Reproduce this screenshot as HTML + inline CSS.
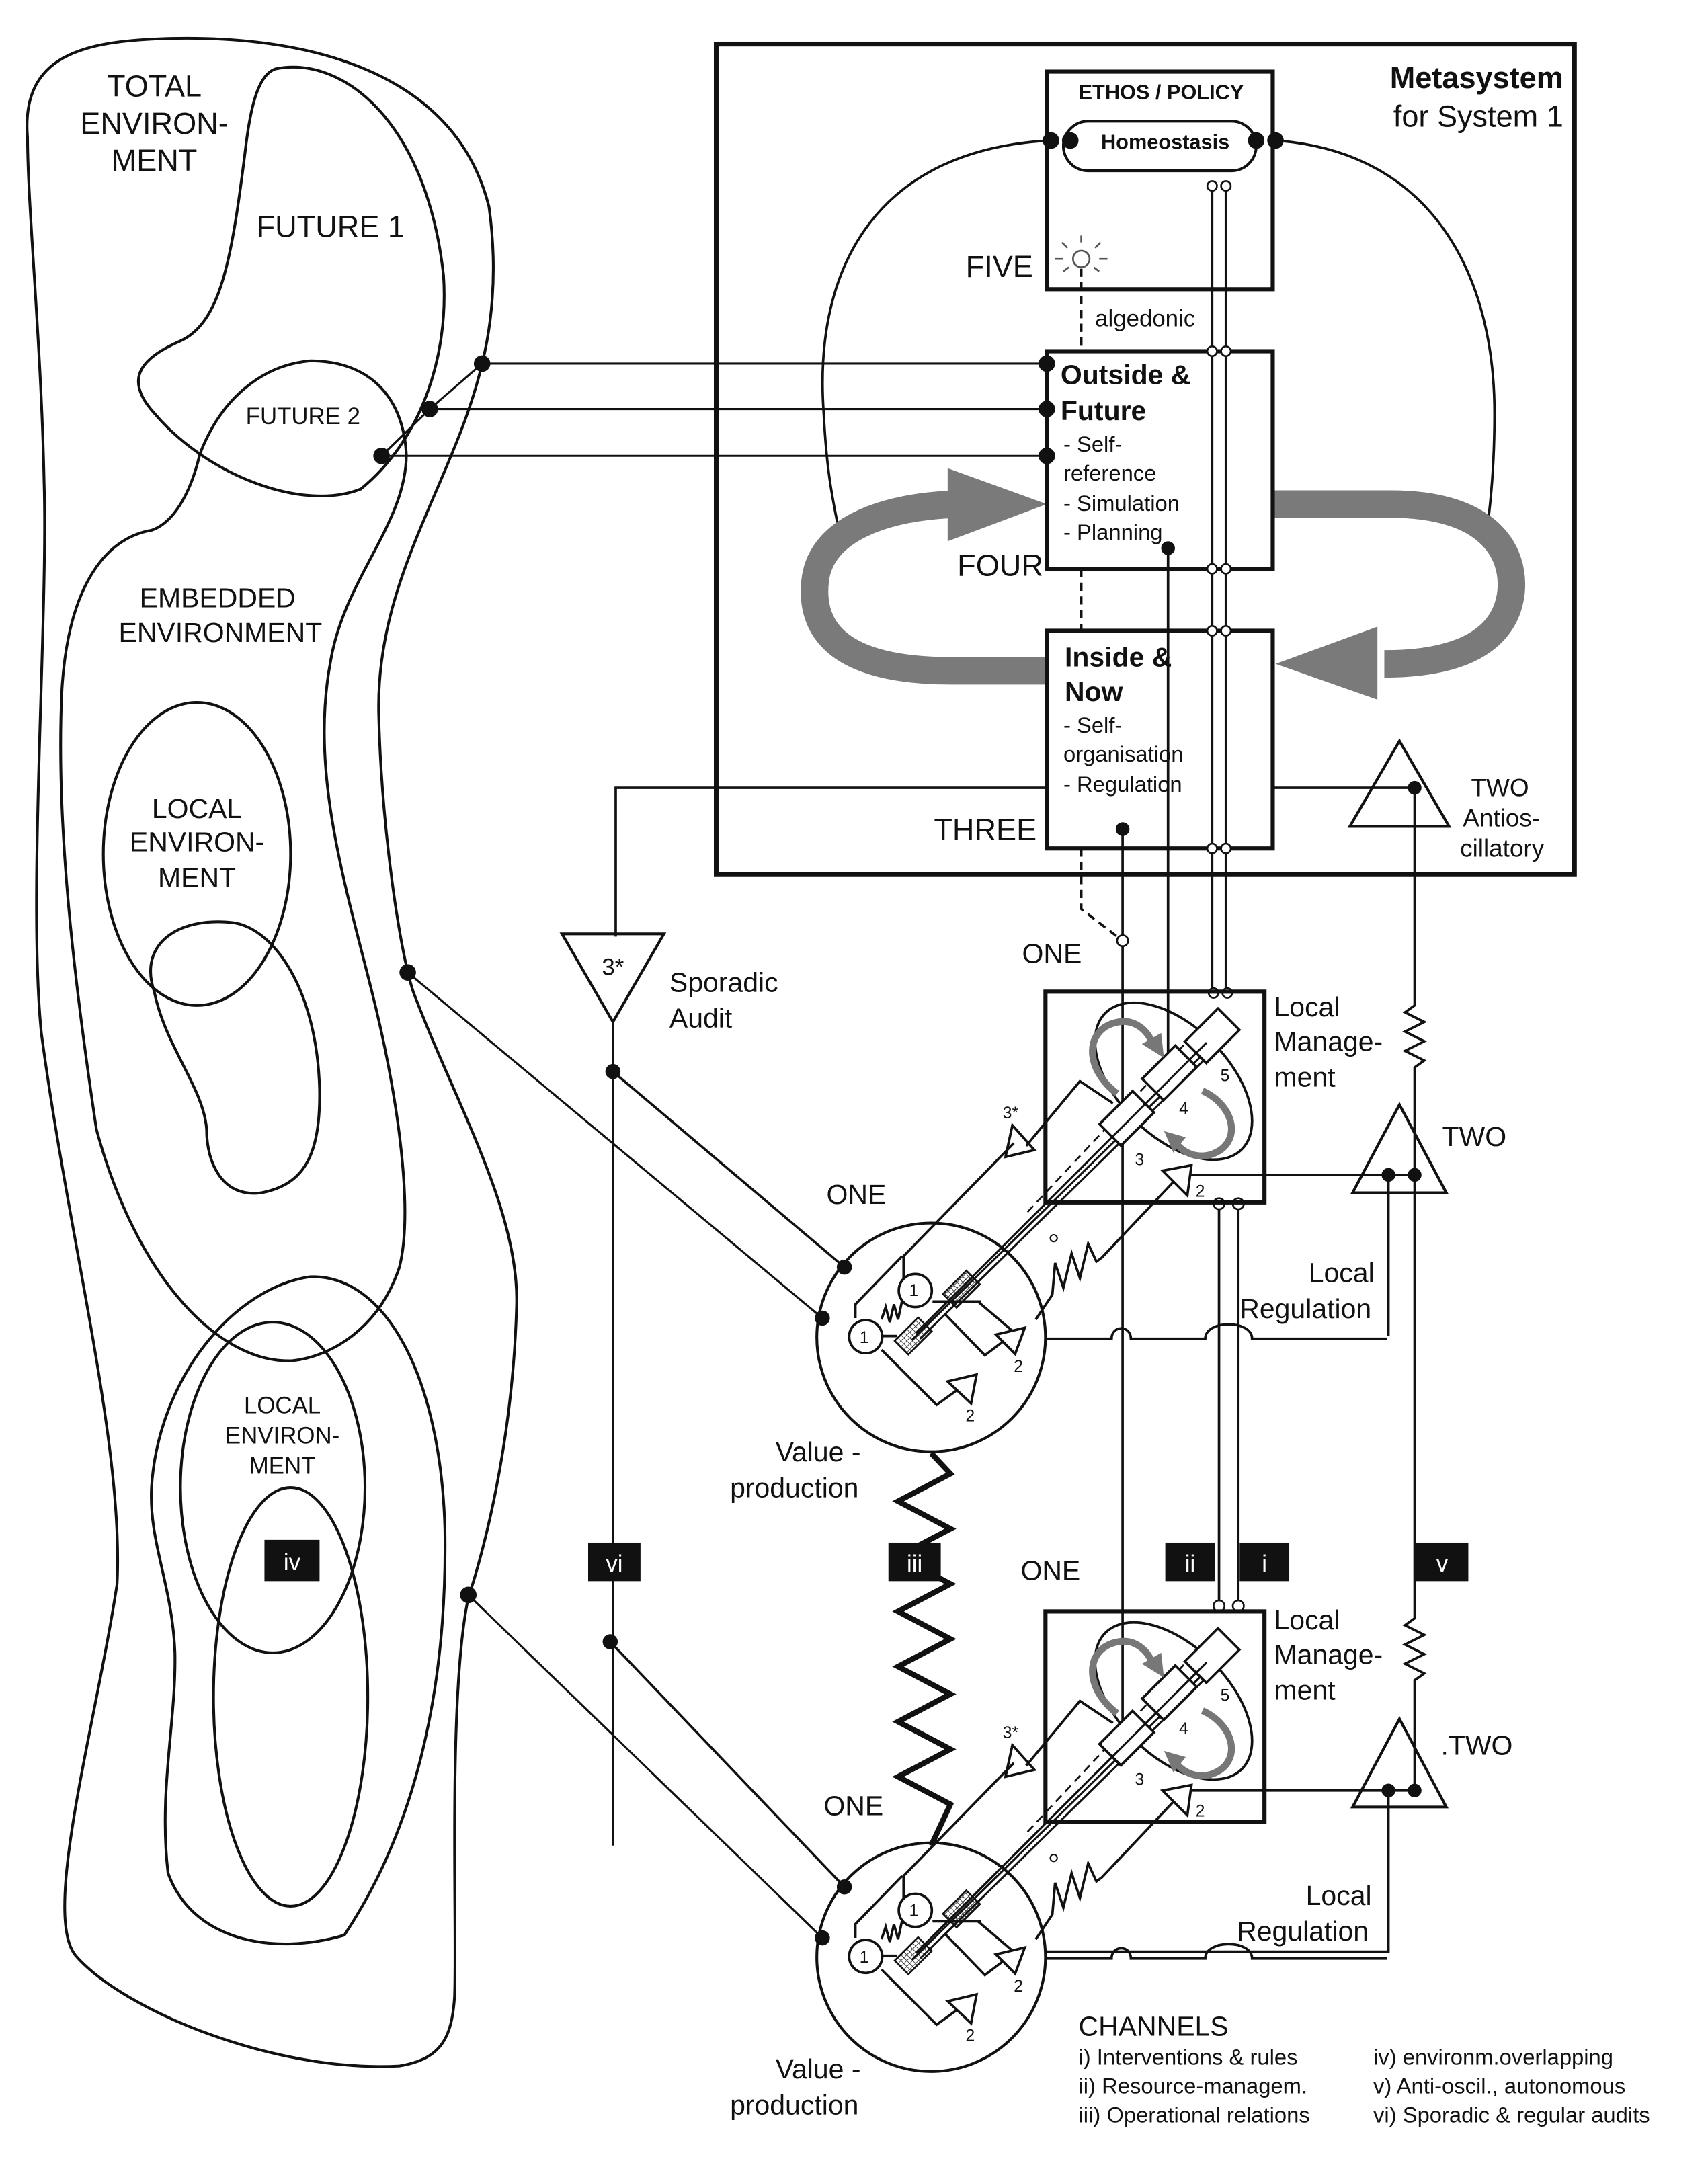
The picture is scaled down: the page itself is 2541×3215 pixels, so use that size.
<!DOCTYPE html>
<html><head><meta charset="utf-8"><style>
html,body{margin:0;padding:0;background:#fff}
svg{display:block}
text{font-family:"Liberation Sans",sans-serif;fill:#111}
</style></head><body>
<svg width="2541" height="3215" viewBox="0 0 1240 1569" preserveAspectRatio="none" xmlns="http://www.w3.org/2000/svg">
<defs>
<pattern id="hatch" width="3" height="3" patternUnits="userSpaceOnUse"><path d="M0,0H3M0,0V3" stroke="#222" stroke-width="0.8"/></pattern>
<g id="unit" fill="none" stroke="#111">
 <rect x="759" y="720" width="159" height="153" stroke-width="3"/>
 <circle cx="676" cy="971" r="83" stroke-width="2"/>
 <ellipse cx="852" cy="785" rx="70" ry="40" transform="rotate(45 852 785)" stroke-width="1.8"/>
 <path d="M665,968 L876,757 M662,973 L879,760 M668,972 L883,761" stroke-width="1.5"/>
 <path d="M746,880 L876,741" stroke-width="1.3" stroke-dasharray="6,4"/>
 <rect x="863" y="741" width="34" height="22" transform="rotate(-45 880 752)" fill="#fff" stroke-width="1.8"/>
 <rect x="832" y="768" width="34" height="22" transform="rotate(-45 849 779)" fill="#fff" stroke-width="1.8"/>
 <rect x="801" y="801" width="34" height="22" transform="rotate(-45 818 812)" fill="#fff" stroke-width="1.8"/>
 <path d="M665,968 L876,757" stroke-width="1.5"/>
 <path d="M811,794 C786,775 788,746 812,742 C823,740 832,747 836,756" stroke="#777" stroke-width="5"/>
 <polygon points="829,758 845,768 843,750" fill="#777" stroke="none"/>
 <path d="M873,792 C897,803 902,830 880,838 C868,842 858,836 853,829" stroke="#777" stroke-width="5"/>
 <polygon points="846,822 860,826 852,836" fill="#777" stroke="#777"/>
 <polygon points="730,840 751,835 735,817" fill="#fff" stroke-width="1.8"/>
 <path d="M736,830 L656,912 L656,945 M745,832 L784,785 L808,801" stroke-width="1.8"/>
 <polygon points="844,850 865,846 862,868" fill="#fff" stroke-width="1.8"/>
 <path d="M852,858 L800,913 L796,916 L790,903 L784,928 L778,910 L772,935 L766,917 L764,940 L752,958" stroke-width="1.8"/>
 <circle cx="765" cy="899" r="2.5" stroke-width="1"/>
 <path d="M655,912 L621,947 L621,957 M640,958 L643,949 L646,960 L649,947 L652,958 L655,944" stroke-width="1.8"/>
 <circle cx="664.5" cy="937" r="12" fill="#fff" stroke-width="1.8"/>
 <circle cx="628.5" cy="970.5" r="12" fill="#fff" stroke-width="1.8"/>
 <rect x="686" y="929" width="24" height="14" transform="rotate(-45 698 936)" fill="url(#hatch)" stroke-width="1.3"/>
 <rect x="651" y="963" width="24" height="14" transform="rotate(-45 663 970)" fill="url(#hatch)" stroke-width="1.3"/>
 <path d="M640,980 L680,1020 L709,999 M710,945 L737,968 M686,954 L715,984 L740,965 M677,945 L712,945 M640,970 L651,970" stroke-width="1.8"/>
 <polygon points="723,969 744,964 737,983" fill="#fff" stroke-width="1.8"/>
 <polygon points="688,1003 709,998 705,1019" fill="#fff" stroke-width="1.8"/>
 <circle cx="613" cy="920" r="5.5" fill="#111" stroke="none"/>
 <circle cx="597" cy="957" r="5.5" fill="#111" stroke="none"/>
 <path d="M759,972 L807,972 C807,962 821,962 821,972 L875,972 C875,958 909,958 909,972 L1007,972" stroke-width="1.8"/>
</g>
</defs>

<!-- LEFT environments -->
<g fill="none" stroke="#111" stroke-width="2">
 <path d="M20,100 C15,40 60,30 120,28 C220,25 330,50 355,150 C362,200 356,240 350,264 C330,350 272,420 275,520 C277,600 290,690 300,720 C330,800 378,880 375,950 C372,1050 350,1130 340,1160 C325,1230 332,1400 330,1450 C328,1480 320,1495 290,1500 C200,1505 90,1460 55,1420 C30,1390 70,1250 85,1150 C90,1050 50,900 30,750 C20,650 35,450 32,350 C30,250 20,150 20,100 Z"/>
 <path d="M200,50 C250,40 310,90 322,200 C326,260 305,320 262,355 C220,372 150,345 112,300 C92,278 98,262 130,248 C160,235 168,190 178,110 C182,75 188,54 200,50 Z"/>
 <path d="M145,330 C160,290 190,265 225,262 C270,262 293,290 295,330 C295,380 250,420 240,480 C225,560 250,640 270,720 C290,800 300,880 290,920 C275,965 240,985 212,988 C160,990 100,930 70,820 C55,720 40,600 45,500 C50,420 80,390 110,385 C125,380 138,360 145,330 Z"/>
 <ellipse cx="143" cy="620" rx="68" ry="110"/>
 <path d="M112,720 C100,685 130,665 170,670 C200,675 230,720 232,790 C233,840 220,860 190,866 C162,870 150,845 150,820 C148,790 120,760 112,720 Z"/>
 <path d="M110,1080 C115,1000 170,935 225,927 C280,925 320,1000 323,1110 C325,1230 300,1330 250,1405 C200,1420 140,1410 122,1360 C115,1300 128,1250 127,1200 C125,1150 108,1120 110,1080 Z"/>
 <ellipse cx="198" cy="1080" rx="67" ry="120"/>
 <ellipse cx="211" cy="1232" rx="56" ry="152"/>
</g>
<g font-size="22" text-anchor="middle">
 <text x="112" y="70">TOTAL</text><text x="112" y="97">ENVIRON-</text><text x="112" y="124">MENT</text>
 <text x="240" y="172">FUTURE 1</text>
 <text x="220" y="308" font-size="17">FUTURE 2</text>
 <text x="158" y="441" font-size="20">EMBEDDED</text><text x="160" y="466" font-size="20">ENVIRONMENT</text>
 <text x="143" y="594" font-size="20">LOCAL</text><text x="143" y="618" font-size="20">ENVIRON-</text><text x="143" y="644" font-size="20">MENT</text>
 <text x="205" y="1026" font-size="17">LOCAL</text><text x="205" y="1048" font-size="17">ENVIRON-</text><text x="205" y="1070" font-size="17">MENT</text>
</g>

<!-- environment connectors -->
<g stroke="#111" stroke-width="1.5" fill="none">
 <path d="M350,264 H760 M312,297 H760 M277,331 H760 M350,264 L312,297 L277,331"/>
 <path d="M296,706 L597,957 M340,1158 L597,1407"/>
</g>
<g fill="#111">
 <circle cx="350" cy="264" r="6"/><circle cx="312" cy="297" r="6"/><circle cx="277" cy="331" r="6"/>
 <circle cx="296" cy="706" r="6"/><circle cx="340" cy="1158" r="6"/>
</g>

<!-- Metasystem -->
<rect x="520" y="32" width="623" height="603" fill="none" stroke="#111" stroke-width="3.5"/>
<text x="1135" y="64" font-size="22" font-weight="bold" text-anchor="end">Metasystem</text>
<text x="1135" y="92" font-size="22" text-anchor="end">for System 1</text>

<g fill="none" stroke="#111" stroke-width="1.8">
 <path d="M763,102 C640,108 590,190 598,300 C600,340 604,360 608,380"/>
 <path d="M926,102 C1040,110 1085,200 1085,300 C1085,340 1082,370 1078,395"/>
</g>
<g fill="none" stroke="#7a7a7a" stroke-width="20">
 <path d="M760,487 L690,487 C600,487 588,450 592,420 C597,385 640,368 695,366"/>
 <path d="M924,366 L1010,366 C1080,366 1100,400 1097,430 C1093,465 1060,482 1005,482"/>
</g>
<polygon points="688,340 760,366 688,393" fill="#7a7a7a"/>
<polygon points="1000,455 926,482 1000,508" fill="#7a7a7a"/>

<g fill="#fff" stroke="#111" stroke-width="3">
 <rect x="760" y="52" width="164" height="158"/>
 <rect x="760" y="255" width="164" height="158"/>
 <rect x="760" y="458" width="164" height="158"/>
</g>
<rect x="772" y="88" width="140" height="36" rx="18" fill="#fff" stroke="#111" stroke-width="2"/>
<text x="843" y="72" font-size="15" font-weight="bold" text-anchor="middle">ETHOS / POLICY</text>
<text x="846" y="108" font-size="15" font-weight="bold" text-anchor="middle">Homeostasis</text>
<g fill="#111"><circle cx="763" cy="102" r="6"/><circle cx="777" cy="102" r="6"/><circle cx="912" cy="102" r="6"/><circle cx="926" cy="102" r="6"/>
<circle cx="760" cy="264" r="6"/><circle cx="760" cy="297" r="6"/><circle cx="760" cy="331" r="6"/></g>
<g stroke="#555" stroke-width="1.3" fill="none">
 <circle cx="785" cy="188" r="6"/>
 <path d="M785,176 V171 M775,180 L771,176 M795,180 L799,176 M772,188 H766 M798,188 H804 M776,194 L772,197 M794,194 L798,197"/>
</g>
<path d="M785,195 V255 M785,413 V458 M785,616 V660 L815,683" stroke="#111" stroke-width="1.8" stroke-dasharray="6,4" fill="none"/>
<text x="795" y="237" font-size="17">algedonic</text>
<text x="750" y="201" font-size="22" text-anchor="end">FIVE</text>
<text x="695" y="418" font-size="22">FOUR</text>
<text x="678" y="610" font-size="22">THREE</text>
<g font-size="20" font-weight="bold"><text x="770" y="279">Outside &amp;</text><text x="770" y="305">Future</text>
<text x="773" y="484">Inside &amp;</text><text x="773" y="509">Now</text></g>
<g font-size="16"><text x="772" y="328">- Self-</text><text x="772" y="349">reference</text><text x="772" y="371">- Simulation</text><text x="772" y="392">- Planning</text>
<text x="772" y="532">- Self-</text><text x="772" y="553">organisation</text><text x="772" y="575">- Regulation</text></g>

<g stroke="#111" stroke-width="1.8" fill="none">
 <path d="M880,136 V720 M890,136 V720"/>
 <path d="M848,398 V778"/>
 <path d="M815,602 V1260"/>
 <path d="M885,874 V1165 M899,874 V1165"/>
 <path d="M760,572 H447 V680"/>
 <path d="M445,742 V1340"/>
 <path d="M445,778 L613,920 M443,1192 L613,1370"/>
 <path d="M924,572 H1027 V730 L1020,735 L1034,742 L1020,749 L1034,756 L1020,763 L1034,770 L1027,775 V1175 L1020,1180 L1034,1187 L1020,1194 L1034,1201 L1020,1208 L1034,1215 L1027,1220 V1300"/>
 <path d="M857,853 H1027 M1008,853 V970 M857,1300 H1027 M1008,1300 V1417 H759"/>
</g>
<g fill="#fff" stroke="#111" stroke-width="1.3">
 <circle cx="880" cy="135" r="3.5"/><circle cx="890" cy="135" r="3.5"/>
 <circle cx="880" cy="255" r="3.5"/><circle cx="890" cy="255" r="3.5"/>
 <circle cx="880" cy="413" r="3.5"/><circle cx="890" cy="413" r="3.5"/>
 <circle cx="880" cy="458" r="3.5"/><circle cx="890" cy="458" r="3.5"/>
 <circle cx="880" cy="616" r="3.5"/><circle cx="890" cy="616" r="3.5"/>
 <circle cx="881" cy="721" r="3.5"/><circle cx="891" cy="721" r="3.5"/>
 <circle cx="885" cy="874" r="4"/><circle cx="899" cy="874" r="4"/>
 <circle cx="885" cy="1166" r="4"/><circle cx="899" cy="1166" r="4"/>
 <circle cx="815" cy="683" r="4"/>
</g>
<g fill="#111"><circle cx="848" cy="398" r="5"/><circle cx="815" cy="602" r="5"/><circle cx="1027" cy="572" r="5"/>
<circle cx="445" cy="778" r="5.5"/><circle cx="443" cy="1192" r="5.5"/>
<circle cx="1008" cy="853" r="5"/><circle cx="1027" cy="853" r="5"/><circle cx="1008" cy="1300" r="5"/><circle cx="1027" cy="1300" r="5"/></g>

<g fill="none" stroke="#111" stroke-width="2">
 <polygon points="980,600 1052,600 1016,538"/>
 <polygon points="982,866 1050,866 1016,802"/>
 <polygon points="982,1312 1050,1312 1016,1248"/>
 <polygon points="408,678 482,678 445,742"/>
</g>
<text x="445" y="708" font-size="17" text-anchor="middle">3*</text>
<g font-size="20">
 <text x="486" y="720">Sporadic</text><text x="486" y="746">Audit</text>
 <text x="1068" y="578" font-size="18">TWO</text><text x="1062" y="600" font-size="18">Antios-</text><text x="1060" y="622" font-size="18">cillatory</text>
 <text x="1047" y="832">TWO</text><text x="1046" y="1274">.TWO</text>
 <text x="925" y="738">Local</text><text x="925" y="763">Manage-</text><text x="925" y="789">ment</text>
 <text x="925" y="1183">Local</text><text x="925" y="1208">Manage-</text><text x="925" y="1234">ment</text>
 <text x="950" y="931">Local</text><text x="900" y="957">Regulation</text>
 <text x="948" y="1383">Local</text><text x="898" y="1409">Regulation</text>
 <text x="742" y="699">ONE</text><text x="600" y="874">ONE</text><text x="741" y="1147">ONE</text><text x="598" y="1318">ONE</text>
 <text x="563" y="1061">Value -</text><text x="530" y="1087">production</text>
 <text x="563" y="1509">Value -</text><text x="530" y="1535">production</text>
</g>

<use href="#unit"/>
<use href="#unit" transform="translate(0,450)"/>
<g font-size="12" fill="#333">
 <text x="886" y="785">5</text><text x="856" y="809">4</text><text x="824" y="846">3</text><text x="868" y="869">2</text>
 <text x="728" y="812">3*</text><text x="736" y="996">2</text><text x="701" y="1032">2</text>
 <text x="660" y="941">1</text><text x="624" y="975">1</text>
 <text x="886" y="1235">5</text><text x="856" y="1259">4</text><text x="824" y="1296">3</text><text x="868" y="1319">2</text>
 <text x="728" y="1262">3*</text><text x="736" y="1446">2</text><text x="701" y="1482">2</text>
 <text x="660" y="1391">1</text><text x="624" y="1425">1</text>
</g>

<path d="M676,1055 L690,1070 L652,1090 L690,1110 L652,1130 L690,1150 L652,1170 L690,1190 L652,1210 L690,1230 L652,1250 L690,1270 L652,1290 L690,1310 L676,1340" fill="none" stroke="#111" stroke-width="4"/>

<g>
 <rect x="192" y="1118" width="40" height="30" fill="#111"/><text x="212" y="1140" font-size="17" style="fill:#fff" text-anchor="middle">iv</text>
 <rect x="427" y="1120" width="38" height="28" fill="#111"/><text x="446" y="1141" font-size="17" style="fill:#fff" text-anchor="middle">vi</text>
 <rect x="645" y="1120" width="38" height="28" fill="#111"/><text x="664" y="1141" font-size="17" style="fill:#fff" text-anchor="middle">iii</text>
 <rect x="846" y="1120" width="36" height="28" fill="#111"/><text x="864" y="1141" font-size="17" style="fill:#fff" text-anchor="middle">ii</text>
 <rect x="900" y="1120" width="36" height="28" fill="#111"/><text x="918" y="1141" font-size="17" style="fill:#fff" text-anchor="middle">i</text>
 <rect x="1027" y="1120" width="39" height="28" fill="#111"/><text x="1047" y="1141" font-size="17" style="fill:#fff" text-anchor="middle">v</text>
</g>
<text x="783" y="1478" font-size="20">CHANNELS</text>
<g font-size="16">
 <text x="783" y="1499">i) Interventions &amp; rules</text><text x="783" y="1520">ii) Resource-managem.</text><text x="783" y="1541">iii) Operational relations</text>
 <text x="997" y="1499">iv) environm.overlapping</text><text x="997" y="1520">v) Anti-oscil., autonomous</text><text x="997" y="1541">vi) Sporadic &amp; regular audits</text>
</g>
</svg>
</body></html>
